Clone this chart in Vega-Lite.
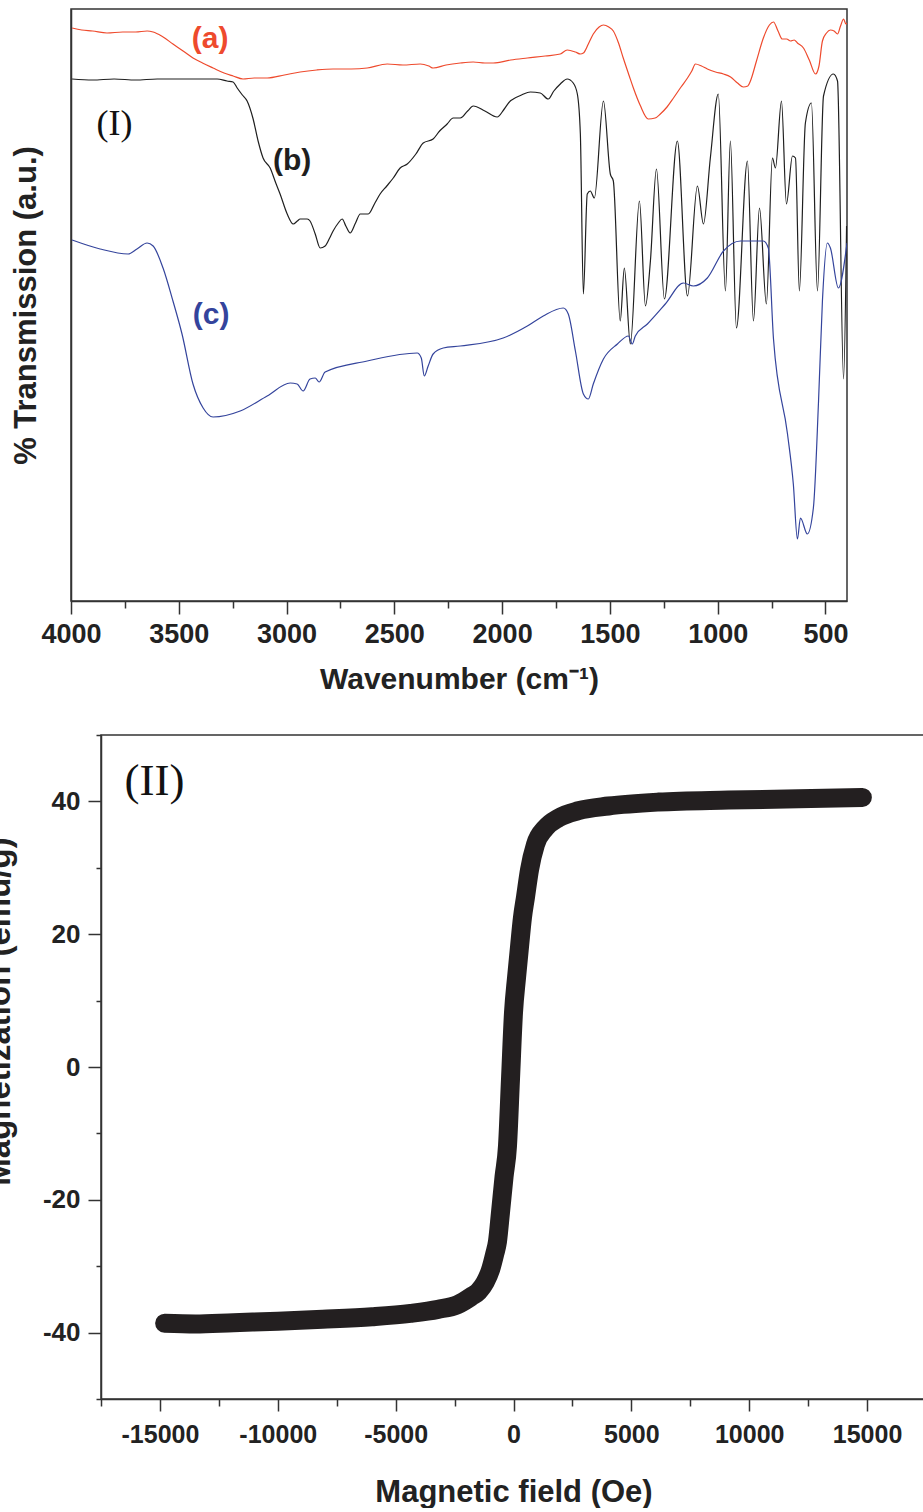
{
  "$schema": "https://vega.github.io/schema/vega-lite/v6.json",
  "background": "white",
  "padding": {"left": -18, "top": 8, "right": 0, "bottom": 0},
  "spacing": 26,
  "datasets": {
    "ftir": [
      {"wn":3995,"t":573,"s":"a"},{"wn":3950,"t":571,"s":"a"},{"wn":3900,"t":570,"s":"a"},{"wn":3833,"t":568,"s":"a"},{"wn":3760,"t":569,"s":"a"},{"wn":3700,"t":569,"s":"a"},{"wn":3647,"t":570,"s":"a"},{"wn":3619,"t":569,"s":"a"},{"wn":3580,"t":565,"s":"a"},{"wn":3527,"t":557,"s":"a"},{"wn":3480,"t":550,"s":"a"},{"wn":3434,"t":543,"s":"a"},{"wn":3390,"t":538,"s":"a"},{"wn":3341,"t":533,"s":"a"},{"wn":3290,"t":528,"s":"a"},{"wn":3248,"t":525,"s":"a"},{"wn":3202,"t":522,"s":"a"},{"wn":3150,"t":523,"s":"a"},{"wn":3090,"t":523,"s":"a"},{"wn":3010,"t":526,"s":"a"},{"wn":2937,"t":529,"s":"a"},{"wn":2860,"t":531,"s":"a"},{"wn":2784,"t":532,"s":"a"},{"wn":2700,"t":532,"s":"a"},{"wn":2626,"t":533,"s":"a"},{"wn":2533,"t":537,"s":"a"},{"wn":2460,"t":536,"s":"a"},{"wn":2380,"t":537,"s":"a"},{"wn":2340,"t":535,"s":"a"},{"wn":2320,"t":533,"s":"a"},{"wn":2260,"t":536,"s":"a"},{"wn":2194,"t":538,"s":"a"},{"wn":2134,"t":539,"s":"a"},{"wn":2080,"t":538,"s":"a"},{"wn":2041,"t":538,"s":"a"},{"wn":1960,"t":541,"s":"a"},{"wn":1883,"t":543,"s":"a"},{"wn":1800,"t":545,"s":"a"},{"wn":1730,"t":547,"s":"a"},{"wn":1698,"t":551,"s":"a"},{"wn":1660,"t":549,"s":"a"},{"wn":1637,"t":547,"s":"a"},{"wn":1623,"t":548,"s":"a"},{"wn":1600,"t":557,"s":"a"},{"wn":1577,"t":567,"s":"a"},{"wn":1550,"t":574,"s":"a"},{"wn":1530,"t":576,"s":"a"},{"wn":1505,"t":574,"s":"a"},{"wn":1484,"t":570,"s":"a"},{"wn":1460,"t":558,"s":"a"},{"wn":1438,"t":543,"s":"a"},{"wn":1410,"t":525,"s":"a"},{"wn":1391,"t":513,"s":"a"},{"wn":1360,"t":496,"s":"a"},{"wn":1322,"t":482,"s":"a"},{"wn":1290,"t":483,"s":"a"},{"wn":1266,"t":487,"s":"a"},{"wn":1235,"t":494,"s":"a"},{"wn":1205,"t":503,"s":"a"},{"wn":1170,"t":514,"s":"a"},{"wn":1140,"t":523,"s":"a"},{"wn":1120,"t":530,"s":"a"},{"wn":1103,"t":537,"s":"a"},{"wn":1075,"t":535,"s":"a"},{"wn":1048,"t":532,"s":"a"},{"wn":1010,"t":529,"s":"a"},{"wn":973,"t":527,"s":"a"},{"wn":940,"t":524,"s":"a"},{"wn":908,"t":518,"s":"a"},{"wn":881,"t":514,"s":"a"},{"wn":860,"t":515,"s":"a"},{"wn":848,"t":520,"s":"a"},{"wn":820,"t":540,"s":"a"},{"wn":788,"t":563,"s":"a"},{"wn":760,"t":576,"s":"a"},{"wn":741,"t":579,"s":"a"},{"wn":720,"t":570,"s":"a"},{"wn":700,"t":562,"s":"a"},{"wn":680,"t":562,"s":"a"},{"wn":662,"t":560,"s":"a"},{"wn":645,"t":561,"s":"a"},{"wn":630,"t":558,"s":"a"},{"wn":602,"t":553,"s":"a"},{"wn":575,"t":541,"s":"a"},{"wn":546,"t":527,"s":"a"},{"wn":530,"t":535,"s":"a"},{"wn":514,"t":560,"s":"a"},{"wn":495,"t":568,"s":"a"},{"wn":477,"t":571,"s":"a"},{"wn":460,"t":570,"s":"a"},{"wn":444,"t":567,"s":"a"},{"wn":430,"t":575,"s":"a"},{"wn":416,"t":582,"s":"a"},{"wn":405,"t":577,"s":"a"},{"wn":400,"t":578,"s":"a"},

      {"wn":3995,"t":522,"s":"b"},{"wn":3900,"t":521,"s":"b"},{"wn":3800,"t":522,"s":"b"},{"wn":3700,"t":521,"s":"b"},{"wn":3600,"t":522,"s":"b"},{"wn":3500,"t":522,"s":"b"},{"wn":3401,"t":522,"s":"b"},{"wn":3322,"t":522,"s":"b"},{"wn":3276,"t":520,"s":"b"},{"wn":3248,"t":519,"s":"b"},{"wn":3229,"t":513,"s":"b"},{"wn":3205,"t":506,"s":"b"},{"wn":3183,"t":500,"s":"b"},{"wn":3155,"t":482,"s":"b"},{"wn":3132,"t":460,"s":"b"},{"wn":3109,"t":443,"s":"b"},{"wn":3076,"t":433,"s":"b"},{"wn":3050,"t":418,"s":"b"},{"wn":3030,"t":407,"s":"b"},{"wn":2997,"t":387,"s":"b"},{"wn":2969,"t":377,"s":"b"},{"wn":2950,"t":380,"s":"b"},{"wn":2937,"t":382,"s":"b"},{"wn":2904,"t":382,"s":"b"},{"wn":2891,"t":380,"s":"b"},{"wn":2867,"t":367,"s":"b"},{"wn":2844,"t":353,"s":"b"},{"wn":2821,"t":355,"s":"b"},{"wn":2800,"t":363,"s":"b"},{"wn":2784,"t":370,"s":"b"},{"wn":2760,"t":378,"s":"b"},{"wn":2742,"t":382,"s":"b"},{"wn":2725,"t":375,"s":"b"},{"wn":2705,"t":368,"s":"b"},{"wn":2680,"t":378,"s":"b"},{"wn":2658,"t":387,"s":"b"},{"wn":2621,"t":387,"s":"b"},{"wn":2590,"t":398,"s":"b"},{"wn":2566,"t":407,"s":"b"},{"wn":2535,"t":415,"s":"b"},{"wn":2505,"t":423,"s":"b"},{"wn":2473,"t":433,"s":"b"},{"wn":2440,"t":437,"s":"b"},{"wn":2400,"t":447,"s":"b"},{"wn":2366,"t":458,"s":"b"},{"wn":2320,"t":462,"s":"b"},{"wn":2290,"t":470,"s":"b"},{"wn":2255,"t":477,"s":"b"},{"wn":2227,"t":483,"s":"b"},{"wn":2194,"t":483,"s":"b"},{"wn":2160,"t":490,"s":"b"},{"wn":2134,"t":495,"s":"b"},{"wn":2080,"t":490,"s":"b"},{"wn":2023,"t":484,"s":"b"},{"wn":1990,"t":492,"s":"b"},{"wn":1962,"t":500,"s":"b"},{"wn":1948,"t":502,"s":"b"},{"wn":1910,"t":506,"s":"b"},{"wn":1869,"t":509,"s":"b"},{"wn":1823,"t":508,"s":"b"},{"wn":1786,"t":502,"s":"b"},{"wn":1760,"t":510,"s":"b"},{"wn":1730,"t":517,"s":"b"},{"wn":1698,"t":522,"s":"b"},{"wn":1670,"t":518,"s":"b"},{"wn":1651,"t":507,"s":"b"},{"wn":1637,"t":467,"s":"b"},{"wn":1623,"t":307,"s":"b"},{"wn":1605,"t":407,"s":"b"},{"wn":1591,"t":410,"s":"b"},{"wn":1572,"t":403,"s":"b"},{"wn":1530,"t":500,"s":"b"},{"wn":1498,"t":427,"s":"b"},{"wn":1484,"t":420,"s":"b"},{"wn":1452,"t":280,"s":"b"},{"wn":1433,"t":333,"s":"b"},{"wn":1405,"t":257,"s":"b"},{"wn":1363,"t":400,"s":"b"},{"wn":1335,"t":295,"s":"b"},{"wn":1312,"t":340,"s":"b"},{"wn":1284,"t":432,"s":"b"},{"wn":1247,"t":302,"s":"b"},{"wn":1187,"t":460,"s":"b"},{"wn":1140,"t":305,"s":"b"},{"wn":1094,"t":415,"s":"b"},{"wn":1066,"t":377,"s":"b"},{"wn":1034,"t":443,"s":"b"},{"wn":997,"t":507,"s":"b"},{"wn":964,"t":310,"s":"b"},{"wn":941,"t":460,"s":"b"},{"wn":913,"t":273,"s":"b"},{"wn":862,"t":440,"s":"b"},{"wn":834,"t":280,"s":"b"},{"wn":806,"t":393,"s":"b"},{"wn":774,"t":297,"s":"b"},{"wn":746,"t":443,"s":"b"},{"wn":732,"t":433,"s":"b"},{"wn":704,"t":500,"s":"b"},{"wn":681,"t":397,"s":"b"},{"wn":653,"t":445,"s":"b"},{"wn":639,"t":443,"s":"b"},{"wn":621,"t":310,"s":"b"},{"wn":593,"t":478,"s":"b"},{"wn":565,"t":498,"s":"b"},{"wn":537,"t":310,"s":"b"},{"wn":509,"t":505,"s":"b"},{"wn":463,"t":527,"s":"b"},{"wn":444,"t":520,"s":"b"},{"wn":416,"t":222,"s":"b"},{"wn":402,"t":375,"s":"b"},

      {"wn":3995,"t":361,"s":"c"},{"wn":3865,"t":352,"s":"c"},{"wn":3735,"t":347,"s":"c"},{"wn":3694,"t":352,"s":"c"},{"wn":3647,"t":358,"s":"c"},{"wn":3619,"t":355,"s":"c"},{"wn":3573,"t":333,"s":"c"},{"wn":3527,"t":300,"s":"c"},{"wn":3485,"t":267,"s":"c"},{"wn":3434,"t":217,"s":"c"},{"wn":3387,"t":193,"s":"c"},{"wn":3341,"t":184,"s":"c"},{"wn":3215,"t":190,"s":"c"},{"wn":3090,"t":205,"s":"c"},{"wn":2983,"t":218,"s":"c"},{"wn":2951,"t":217,"s":"c"},{"wn":2923,"t":210,"s":"c"},{"wn":2891,"t":222,"s":"c"},{"wn":2867,"t":223,"s":"c"},{"wn":2849,"t":219,"s":"c"},{"wn":2821,"t":229,"s":"c"},{"wn":2626,"t":240,"s":"c"},{"wn":2394,"t":248,"s":"c"},{"wn":2375,"t":243,"s":"c"},{"wn":2361,"t":225,"s":"c"},{"wn":2343,"t":235,"s":"c"},{"wn":2320,"t":247,"s":"c"},{"wn":2273,"t":253,"s":"c"},{"wn":2194,"t":255,"s":"c"},{"wn":1995,"t":263,"s":"c"},{"wn":1883,"t":275,"s":"c"},{"wn":1809,"t":285,"s":"c"},{"wn":1716,"t":293,"s":"c"},{"wn":1693,"t":287,"s":"c"},{"wn":1660,"t":250,"s":"c"},{"wn":1623,"t":207,"s":"c"},{"wn":1600,"t":202,"s":"c"},{"wn":1577,"t":217,"s":"c"},{"wn":1530,"t":242,"s":"c"},{"wn":1465,"t":257,"s":"c"},{"wn":1414,"t":265,"s":"c"},{"wn":1396,"t":257,"s":"c"},{"wn":1382,"t":265,"s":"c"},{"wn":1326,"t":277,"s":"c"},{"wn":1243,"t":297,"s":"c"},{"wn":1159,"t":318,"s":"c"},{"wn":1113,"t":315,"s":"c"},{"wn":1048,"t":323,"s":"c"},{"wn":973,"t":350,"s":"c"},{"wn":894,"t":360,"s":"c"},{"wn":788,"t":360,"s":"c"},{"wn":765,"t":353,"s":"c"},{"wn":741,"t":262,"s":"c"},{"wn":676,"t":167,"s":"c"},{"wn":649,"t":117,"s":"c"},{"wn":630,"t":62,"s":"c"},{"wn":616,"t":83,"s":"c"},{"wn":584,"t":67,"s":"c"},{"wn":556,"t":93,"s":"c"},{"wn":532,"t":200,"s":"c"},{"wn":514,"t":300,"s":"c"},{"wn":491,"t":358,"s":"c"},{"wn":477,"t":353,"s":"c"},{"wn":440,"t":313,"s":"c"},{"wn":400,"t":358,"s":"c"}
    ],
    "ftirLabels": [
      {"wn":3355,"t":562,"label":"(a)","s":"a"},
      {"wn":2974,"t":440,"label":"(b)","s":"b"},
      {"wn":3350,"t":286,"label":"(c)","s":"c"}
    ],
    "panelI": [{"wn":3798,"t":477,"label":"(I)"}],
    "mh": [
      {"h":-14800,"m":-38.6},{"h":-13500,"m":-38.7},{"h":-11880,"m":-38.5},{"h":-10000,"m":-38.3},{"h":-8100,"m":-38.0},{"h":-6000,"m":-37.6},{"h":-4370,"m":-37.1},{"h":-3200,"m":-36.5},{"h":-2380,"m":-35.8},{"h":-1800,"m":-34.6},{"h":-1485,"m":-33.8},{"h":-1200,"m":-32.4},{"h":-980,"m":-30.6},{"h":-800,"m":-28.2},{"h":-680,"m":-26.3},{"h":-552,"m":-21.9},{"h":-400,"m":-16.5},{"h":-255,"m":-11.9},{"h":-127,"m":-1.8},{"h":0,"m":8.2},{"h":130,"m":13.5},{"h":255,"m":18.1},{"h":380,"m":22.5},{"h":509,"m":25.6},{"h":679,"m":29.7},{"h":933,"m":33.5},{"h":1358,"m":36.0},{"h":1909,"m":37.5},{"h":2758,"m":38.6},{"h":4031,"m":39.3},{"h":6152,"m":39.9},{"h":9122,"m":40.2},{"h":12093,"m":40.4},{"h":14800,"m":40.6}
    ],
    "panelII": [{"h":-15230,"m":43.1,"label":"(II)"}]
  },
  "vconcat": [
    {
      "width": 776,
      "height": 592,
      "view": {"stroke": "#333333", "strokeWidth": 1.5},
      "layer": [
        {
          "data": {"name": "ftir"},
          "mark": {"type": "line", "strokeWidth": 1.2, "interpolate": "monotone", "clip": true},
          "encoding": {
            "x": {
              "field": "wn", "type": "quantitative",
              "scale": {"domain": [400, 4000], "reverse": true, "nice": false, "zero": false},
              "axis": {
                "title": "Wavenumber (cm⁻¹)",
                "values": [4000,3750,3500,3250,3000,2750,2500,2250,2000,1750,1500,1250,1000,750,500],
                "labelExpr": "datum.value % 500 === 0 ? '' + datum.value : ''",
                "tickSize": {"condition": {"test": "datum.value % 500 === 0", "value": 13}, "value": 7},
                "labelFontSize": 27, "labelPadding": 7, "labelFlush": false, "labelOverlap": false,
                "titleFontSize": 30, "titlePadding": 17
              }
            },
            "y": {
              "field": "t", "type": "quantitative",
              "scale": {"domain": [0, 592], "nice": false, "zero": false},
              "axis": {"title": "% Transmission (a.u.)", "ticks": false, "labels": false, "titleFontSize": 31, "titlePadding": 29}
            },
            "color": {
              "field": "s", "type": "nominal",
              "scale": {"domain": ["a","b","c"], "range": ["#ee4a2d","#1f1f1f","#34449c"]},
              "legend": null
            }
          }
        },
        {
          "data": {"name": "ftirLabels"},
          "mark": {"type": "text", "font": "Liberation Sans", "fontWeight": "bold", "fontSize": 30},
          "encoding": {
            "x": {"field": "wn", "type": "quantitative"},
            "y": {"field": "t", "type": "quantitative"},
            "text": {"field": "label"},
            "color": {"field": "s", "type": "nominal", "legend": null}
          }
        },
        {
          "data": {"name": "panelI"},
          "mark": {"type": "text", "font": "Liberation Serif", "fontSize": 36, "color": "#111111"},
          "encoding": {
            "x": {"field": "wn", "type": "quantitative"},
            "y": {"field": "t", "type": "quantitative"},
            "text": {"field": "label"}
          }
        }
      ]
    },
    {
      "bounds": "flush",
      "spacing": 20,
      "hconcat": [
        {
          "width": 10,
          "height": 10,
          "view": {"stroke": null},
          "data": {"values": [{"k": 0}]},
          "mark": {"type": "point", "opacity": 0}
        },
        {
          "width": 825,
          "height": 664,
          "view": {"stroke": "#333333", "strokeWidth": 1.5},
          "layer": [
            {
              "data": {"name": "mh"},
              "mark": {"type": "line", "strokeWidth": 19, "strokeCap": "round", "strokeJoin": "round", "color": "#231f20", "interpolate": "monotone"},
              "encoding": {
                "x": {
                  "field": "h", "type": "quantitative",
                  "scale": {"domain": [-17500, 17500], "nice": false, "zero": false},
                  "axis": {
                    "title": "Magnetic field (Oe)",
                    "values": [-17500,-15000,-12500,-10000,-7500,-5000,-2500,0,2500,5000,7500,10000,12500,15000,17500],
                    "labelExpr": "datum.value % 5000 === 0 ? '' + datum.value : ''",
                    "tickSize": {"condition": {"test": "datum.value % 5000 === 0", "value": 12}, "value": 7},
                    "labelFontSize": 25, "labelPadding": 11, "labelFlush": false, "labelOverlap": false,
                    "titleFontSize": 31, "titlePadding": 30
                  }
                },
                "y": {
                  "field": "m", "type": "quantitative",
                  "scale": {"domain": [-50, 50], "nice": false, "zero": false},
                  "axis": {
                    "title": "Magnetization (emu/g)",
                    "values": [-50,-40,-30,-20,-10,0,10,20,30,40,50],
                    "labelExpr": "datum.value % 20 === 0 ? '' + datum.value : ''",
                    "tickSize": {"condition": {"test": "datum.value % 20 === 0", "value": 13}, "value": 5},
                    "labelFontSize": 26, "labelPadding": 8, "labelOverlap": false,
                    "titleFontSize": 33, "titlePadding": 26, "titleY": 276
                  }
                }
              }
            },
            {
              "data": {"name": "panelII"},
              "mark": {"type": "text", "font": "Liberation Serif", "fontSize": 45, "color": "#111111"},
              "encoding": {
                "x": {"field": "h", "type": "quantitative"},
                "y": {"field": "m", "type": "quantitative"},
                "text": {"field": "label"}
              }
            }
          ]
        }
      ]
    }
  ],
  "config": {
    "view": {"stroke": null},
    "axis": {
      "grid": false,
      "domainColor": "#333333", "domainWidth": 1.5,
      "tickColor": "#333333", "tickWidth": 1.5,
      "labelFont": "Liberation Sans", "labelFontWeight": "bold", "labelColor": "#222222",
      "titleFont": "Liberation Sans", "titleFontWeight": "bold", "titleColor": "#222222"
    }
  }
}
